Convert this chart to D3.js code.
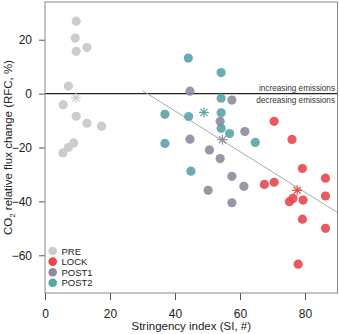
<!DOCTYPE html>
<html>
<head>
<meta charset="utf-8">
<script src="https://cdn.jsdelivr.net/npm/d3@7"></script>
<style>
  body { margin: 0; background: #fff; }
  text { font-family: "Liberation Sans", Arial, sans-serif; }
</style>
</head>
<body>
<div id="chart"></div>
<script>
// groups, in drawing order
var groups = ["PRE", "LOCK", "POST1", "POST2"];
var groupColors = ["#cccccc", "#e8474c", "#8d8b9d", "#5aa3a8"];

// stringency index (x) and relative flux change (y) per group
var preSI = [9.6, 9.3, 9.6, 12.9, 7.2, 5.6, 9.6, 12.9, 17.4, 8.8, 7.2, 5.5];
var preRFC = [26.9, 20.6, 15.7, 17.1, 2.8, -4.1, -8.4, -11, -12.1, -18.3, -20, -22];
var lockSI = [70.5, 76.0, 79.2, 86.3, 70.5, 67.5, 75.2, 76.3, 79.4, 86.3, 79.2, 86.3, 77.9];
var lockRFC = [-10.3, -17.0, -27.8, -31.4, -32.9, -33.7, -40.1, -38.9, -39.5, -38.0, -46.6, -50.0, -63.3];
var post1SI = [44.6, 57.5, 53.9, 61.5, 44.6, 50.6, 53.9, 57.5, 50.2, 61.2, 57.5];
var post1RFC = [0.9, -2.4, -10.3, -14.1, -16.9, -20.9, -24.1, -30.7, -35.9, -34.4, -40.5];
var post2SI = [44.1, 54.2, 54.2, 36.9, 44.2, 54.2, 54.2, 56.8, 64.7, 36.9, 44.9];
var post2RFC = [13.2, 7.8, -1.7, -7.7, -8.5, -7.1, -12.9, -14.8, -18.1, -18.5, -28.8];

// group centres (asterisks)
var centreSI = [9.5, 77.6, 54.6, 48.9];
var centreRFC = [-1.6, -35.9, -17.1, -7.0];

// fitted line
var fitFrom = 30, fitTo = 90;
var fitIntercept = 23.7, fitSlope = -0.754;

var xTicks = [0, 20, 40, 60, 80];
var yTicks = [-60, -40, -20, 0, 20];

var width = 339, height = 334;
var pLeft = 45, pRight = 337.5, pTop = 2, pBottom = 293;

var svg = d3.select("#chart").append("svg")
  .attr("width", width)
  .attr("height", height);

var x = d3.scaleLinear().domain([0, 90]).range([pLeft, pRight]);
var y = d3.scaleLinear().domain([-74, 34]).range([pBottom, pTop]);

svg.append("clipPath").attr("id", "plot")
  .append("rect")
  .attr("x", pLeft).attr("y", pTop)
  .attr("width", pRight - pLeft).attr("height", pBottom - pTop);

// axes
var xAxis = svg.append("g")
  .attr("transform", "translate(0," + pBottom + ")")
  .call(d3.axisBottom(x).tickValues(xTicks).tickSize(7).tickPadding(9));
var yAxis = svg.append("g")
  .attr("transform", "translate(" + pLeft + ",0)")
  .call(d3.axisLeft(y).tickValues(yTicks).tickSize(6).tickPadding(7));
[xAxis, yAxis].forEach(function (a) {
  a.select(".domain").remove();
  a.selectAll("line").attr("stroke", "#555");
  a.selectAll("text").attr("font-size", 12).attr("fill", "#222")
    .attr("font-family", "Liberation Sans, Arial, sans-serif");
});

var plot = svg.append("g").attr("clip-path", "url(#plot)");

// zero line
plot.append("line")
  .attr("x1", pLeft).attr("x2", pRight)
  .attr("y1", y(0)).attr("y2", y(0))
  .attr("stroke", "#222").attr("stroke-width", 1.1);

svg.append("text").attr("x", pRight - 2.5).attr("y", y(0) - 3)
  .attr("text-anchor", "end").attr("font-size", 8.2).attr("fill", "#333")
  .text("increasing emissions");
svg.append("text").attr("x", pRight - 2.5).attr("y", y(0) + 9)
  .attr("text-anchor", "end").attr("font-size", 8.2).attr("fill", "#333")
  .text("decreasing emissions");

// fitted line
plot.append("line")
  .attr("x1", x(fitFrom)).attr("y1", y(fitIntercept + fitSlope * fitFrom))
  .attr("x2", x(fitTo)).attr("y2", y(fitIntercept + fitSlope * fitTo))
  .attr("stroke", "#aaa").attr("stroke-width", 1);

// points
var siLists = [preSI, lockSI, post1SI, post2SI];
var rfcLists = [preRFC, lockRFC, post1RFC, post2RFC];
groups.forEach(function (g, gi) {
  var pts = siLists[gi].map(function (d, i) { return [d, rfcLists[gi][i]]; });
  plot.selectAll(".pt-" + g)
    .data(pts)
    .enter()
    .append("circle")
    .attr("class", "pt-" + g)
    .attr("cx", function (d) { return x(d[0]); })
    .attr("cy", function (d) { return y(d[1]); })
    .attr("r", 4.6)
    .attr("fill", groupColors[gi])
    .attr("fill-opacity", gi == 0 ? 1 : 0.9);
});

// asterisks
groups.forEach(function (g, gi) {
  var cx = x(centreSI[gi]), cy = y(centreRFC[gi]);
  var s = 5;
  var star = plot.append("g").attr("stroke", groupColors[gi]).attr("stroke-width", 1.2);
  [[0, s], [s, 0], [0.72 * s, 0.72 * s], [0.72 * s, -0.72 * s]].forEach(function (v) {
    star.append("line")
      .attr("x1", cx - v[0]).attr("y1", cy - v[1])
      .attr("x2", cx + v[0]).attr("y2", cy + v[1]);
  });
});

// box
svg.append("rect")
  .attr("x", pLeft).attr("y", pTop)
  .attr("width", pRight - pLeft).attr("height", pBottom - pTop)
  .attr("fill", "none").attr("stroke", "#888").attr("stroke-width", 1);

// legend
var legend = svg.append("g");
groups.forEach(function (g, gi) {
  var ly = 251 + gi * 10.6;
  legend.append("circle").attr("cx", 52.7).attr("cy", ly).attr("r", 4.3)
    .attr("fill", groupColors[gi]);
  legend.append("text").attr("x", 61.5).attr("y", ly + 3.6)
    .attr("font-size", 9.5).attr("fill", "#222").text(g);
});

// axis titles
svg.append("text")
  .attr("x", (pLeft + pRight) / 2).attr("y", 330)
  .attr("text-anchor", "middle").attr("font-size", 11.5).attr("fill", "#222")
  .text("Stringency index (SI, #)");

var yt = svg.append("text")
  .attr("transform", "translate(12," + ((pTop + pBottom) / 2) + ") rotate(-90)")
  .attr("text-anchor", "middle").attr("font-size", 11.5).attr("fill", "#222");
yt.append("tspan").text("CO");
yt.append("tspan").attr("font-size", 8).attr("dy", 3).text("2");
yt.append("tspan").attr("dy", -3).text(" relative flux change (RFC, %)");
</script>
</body>
</html>
